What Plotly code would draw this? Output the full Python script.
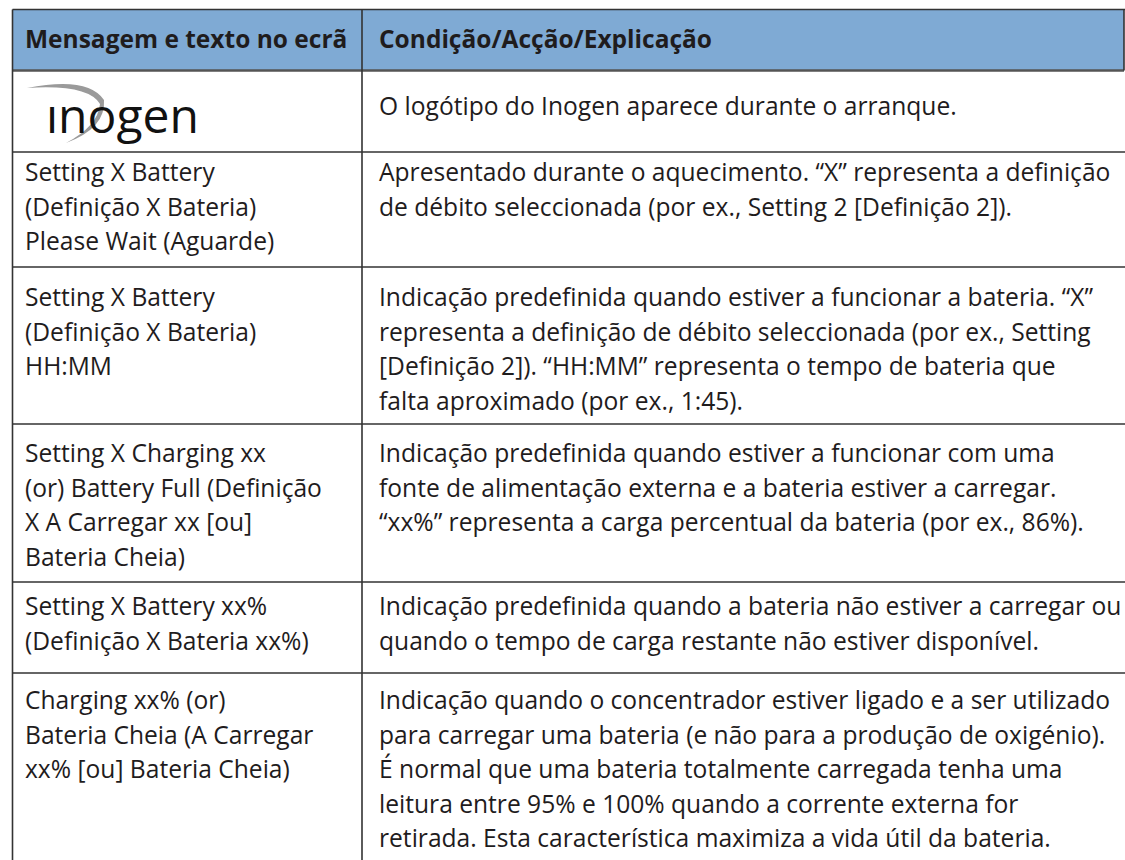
import plotly.graph_objects as go

# ---------------- data ----------------
header = ["Mensagem e texto no ecrã", "Condição/Acção/Explicação"]
logo_text = "ınogen"
messages = [
    [],
    ["Setting X Battery", "(Definição X Bateria)", "Please Wait (Aguarde)"],
    ["Setting X Battery", "(Definição X Bateria)", "HH:MM"],
    ["Setting X Charging xx", "(or) Battery Full (Definição", "X A Carregar xx [ou]", "Bateria Cheia)"],
    ["Setting X Battery xx%", "(Definição X Bateria xx%)"],
    ["Charging xx% (or)", "Bateria Cheia (A Carregar", "xx% [ou] Bateria Cheia)"],
]
explanations = [
    ["O logótipo do Inogen aparece durante o arranque."],
    ["Apresentado durante o aquecimento. “X” representa a definição",
     "de débito seleccionada (por ex., Setting 2 [Definição 2])."],
    ["Indicação predefinida quando estiver a funcionar a bateria. “X”",
     "representa a definição de débito seleccionada (por ex., Setting",
     "[Definição 2]). “HH:MM” representa o tempo de bateria que",
     "falta aproximado (por ex., 1:45)."],
    ["Indicação predefinida quando estiver a funcionar com uma",
     "fonte de alimentação externa e a bateria estiver a carregar.",
     "“xx%” representa a carga percentual da bateria (por ex., 86%)."],
    ["Indicação predefinida quando a bateria não estiver a carregar ou",
     "quando o tempo de carga restante não estiver disponível."],
    ["Indicação quando o concentrador estiver ligado e a ser utilizado",
     "para carregar uma bateria (e não para a produção de oxigénio).",
     "É normal que uma bateria totalmente carregada tenha uma",
     "leitura entre 95% e 100% quando a corrente externa for",
     "retirada. Esta característica maximiza a vida útil da bateria."],
]

# ---------------- layout constants ----------------
W, H = 1125, 860
X_LEFT, X_MID, X_RIGHT = 12.5, 362, 1124
ROW_EDGES = [9.5, 70.5, 152, 267, 424, 582, 673, 860]
FIRST_BASELINE = [115, 181, 306, 462, 615, 709]
HEADER_BASELINE = 48
LINE_STEP = 34.6
TEXT_X = [23, 377]
FS = 24.6
FS_HEAD = 24.5
FONT = "Open Sans"
TXT = "#1f1c1d"
HEADER_FILL = "#7faad4"
LINE = "#333333"

fig = go.Figure()
shapes = []
annotations = []

# header fill
shapes.append(dict(type="rect", x0=X_LEFT, x1=X_RIGHT, y0=ROW_EDGES[0], y1=ROW_EDGES[1],
                   fillcolor=HEADER_FILL, line=dict(width=0), layer="below"))
# horizontal lines
for i, y in enumerate(ROW_EDGES[:-1]):
    if i == 1:
        shapes.append(dict(type="line", x0=X_LEFT, x1=X_RIGHT, y0=y, y1=y,
                           line=dict(color="#555555", width=2.5)))
    else:
        shapes.append(dict(type="line", x0=X_LEFT, x1=W, y0=y, y1=y,
                           line=dict(color=LINE, width=1.6)))
# vertical lines
for x in (X_LEFT, X_MID, X_RIGHT):
    y1 = ROW_EDGES[-1] if x != X_RIGHT else ROW_EDGES[1]
    shapes.append(dict(type="line", x0=x, x1=x, y0=ROW_EDGES[0], y1=y1,
                       line=dict(color=LINE, width=1.6)))

def baseline_to_mid(b, fs):
    return b - 0.39 * fs

# header text
for j, t in enumerate(header):
    annotations.append(dict(x=TEXT_X[j], y=baseline_to_mid(HEADER_BASELINE, FS_HEAD), text="<b>" + t + "</b>",
                            xanchor="left", yanchor="middle", showarrow=False,
                            font=dict(family=FONT, size=FS_HEAD, color=TXT)))

# body text
for r in range(len(messages)):
    for j, lines in enumerate((messages[r], explanations[r])):
        for k, t in enumerate(lines):
            b = FIRST_BASELINE[r] + k * LINE_STEP
            annotations.append(dict(x=TEXT_X[j], y=baseline_to_mid(b, FS), text=t,
                                    xanchor="left", yanchor="middle", showarrow=False,
                                    font=dict(family=FONT, size=FS, color=TXT)))

# logo
annotations.append(dict(x=44, y=baseline_to_mid(133, 48), text=logo_text, xanchor="left", yanchor="middle",
                        showarrow=False, font=dict(family=FONT, size=48, color="#111111", weight=500)))
shapes.append(dict(type="path",
                   path="M 27 88 Q 88 76 104 100 Q 106 128 66 143 Q 98 126 100 104 Q 88 84 27 88 Z",
                   fillcolor="#9a9a9a", line=dict(width=0)))

fig.update_layout(
    width=W, height=H, margin=dict(l=0, r=0, t=0, b=0),
    paper_bgcolor="white", plot_bgcolor="white",
    xaxis=dict(range=[0, W], visible=False, fixedrange=True),
    yaxis=dict(range=[H, 0], visible=False, fixedrange=True),
    shapes=shapes, annotations=annotations, showlegend=False,
)
fig.write_html("out.html", config=dict(displayModeBar=False),
               post_script="document.body.style.margin='0';document.body.style.overflow='hidden';")
